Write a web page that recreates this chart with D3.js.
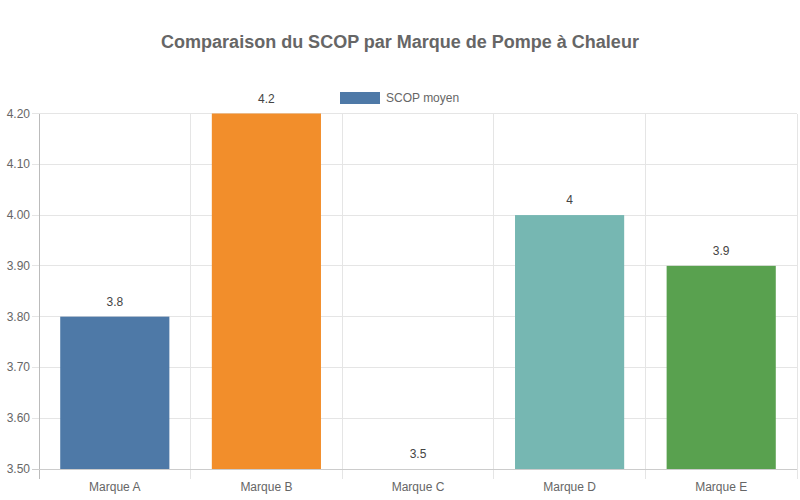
<!DOCTYPE html>
<html><head><meta charset="utf-8">
<script src="https://cdn.jsdelivr.net/npm/d3@7"></script>
<style>body{margin:0;background:#fff}svg{display:block;font-family:"Liberation Sans",Arial,sans-serif}</style>
</head><body><svg id="c" width="800" height="500"></svg>
<script>
const categories = ["Marque A","Marque B","Marque C","Marque D","Marque E"];
const values = [3.8, 4.2, 3.5, 4.0, 3.9];
const colors = ["#4e79a7","#f28e2b","#e15759","#76b7b2","#59a14f"];
const yTicks = [3.5,3.6,3.7,3.8,3.9,4.0,4.1,4.2];
const seriesName = "SCOP moyen";
const title = "Comparaison du SCOP par Marque de Pompe à Chaleur";

const svg = d3.select("#c");
const L = 39, R = 797, T = 113.5, B = 469;
const x = d3.scaleBand().domain(categories).range([L, R]).paddingInner(0.28).paddingOuter(0.14);
const xg = d3.scaleBand().domain(categories).range([L, R]);
const y = d3.scaleLinear().domain([3.5, 4.2]).range([B, T]);

// horizontal grid
svg.append("g").selectAll("line").data(yTicks).join("line")
  .attr("x1", L - 7).attr("x2", R).attr("y1", d => y(d)).attr("y2", d => y(d))
  .attr("stroke", "#e5e5e5").attr("stroke-width", 1).attr("shape-rendering","crispEdges");
// vertical grid
const vx = categories.map(c => xg(c)).concat([R]);
svg.append("g").selectAll("line").data(vx).join("line")
  .attr("x1", d => d).attr("x2", d => d).attr("y1", T).attr("y2", B + 10)
  .attr("stroke", "#e5e5e5").attr("stroke-width", 1).attr("shape-rendering","crispEdges");
// axes lines
svg.append("line").attr("x1", L).attr("x2", L).attr("y1", T).attr("y2", B + 10)
  .attr("stroke", "#bbb").attr("shape-rendering","crispEdges");
svg.append("line").attr("x1", L - 7).attr("x2", R).attr("y1", B).attr("y2", B)
  .attr("stroke", "#ccc").attr("shape-rendering","crispEdges");

// bars
svg.append("g").selectAll("rect").data(values).join("rect")
  .attr("x", (d, i) => x(categories[i])).attr("width", x.bandwidth())
  .attr("y", d => y(d)).attr("height", d => B - y(d))
  .attr("fill", (d, i) => colors[i]);

// value labels
svg.append("g").selectAll("text").data(values).join("text")
  .attr("x", (d, i) => x(categories[i]) + x.bandwidth() / 2)
  .attr("y", d => y(d) - 11)
  .attr("text-anchor", "middle").attr("font-size", 12).attr("fill", "#444")
  .text(d => String(d));

// y tick labels
svg.append("g").selectAll("text").data(yTicks).join("text")
  .attr("x", 30).attr("y", d => y(d) + 4)
  .attr("text-anchor", "end").attr("font-size", 12).attr("fill", "#666")
  .text(d => d.toFixed(2));

// x labels
svg.append("g").selectAll("text").data(categories).join("text")
  .attr("x", d => xg(d) + xg.bandwidth() / 2).attr("y", 491)
  .attr("text-anchor", "middle").attr("font-size", 12).attr("fill", "#666")
  .text(d => d);

// title
svg.append("text").attr("x", 400).attr("y", 48).attr("text-anchor", "middle")
  .attr("font-size", 18).attr("font-weight", "bold").attr("fill", "#666").text(title);

// legend
svg.append("rect").attr("x", 340).attr("y", 92).attr("width", 40).attr("height", 12).attr("fill", colors[0]);
svg.append("text").attr("x", 386).attr("y", 102).attr("font-size", 12).attr("fill", "#666").text(seriesName);
</script></body></html>
